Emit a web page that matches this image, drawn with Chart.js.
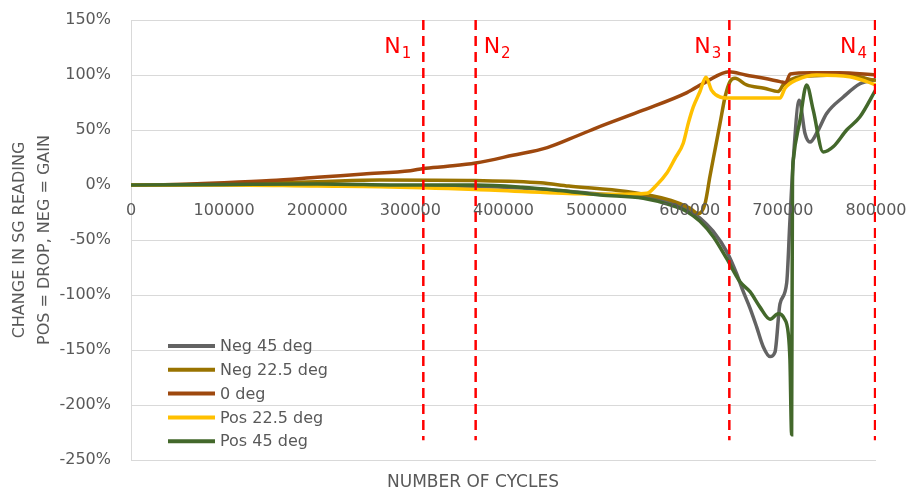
<!DOCTYPE html>
<html><head><meta charset="utf-8">
<script src="https://cdn.jsdelivr.net/npm/chart.js@4.4.1/dist/chart.umd.min.js"></script>
<style>html,body{margin:0;padding:0;background:#fff}#wrap{width:907px;height:493px;position:relative}</style>
</head><body><div id="wrap"><canvas id="c" width="907" height="493"></canvas></div>
<script>
// ---------- DATA ----------
const seriesNames = ['Neg 45 deg', 'Neg 22.5 deg', '0 deg', 'Pos 22.5 deg', 'Pos 45 deg'];

const neg45X = [0, 100000, 200000, 300000, 400000, 460000, 500000, 550000, 580000, 597000, 611000, 625000, 640000, 650000, 657500, 664700, 671800, 678900, 686200, 691500, 696900, 704100, 707600, 711200, 717600, 723700, 729100, 738000, 747000, 764900, 782800, 800000];
const neg45Y = [0, 0, 0, -1, -2, -5, -8, -11, -16, -22, -30, -42, -61, -80, -97, -112, -129, -147, -156, -152, -108, -89, -32, 23, 77, 47, 39, 50, 65, 80, 92, 96];

const neg22X = [0, 100000, 200000, 267000, 370000, 440000, 470000, 532000, 580000, 600000, 609200, 616400, 621700, 627100, 632500, 637900, 643200, 648600, 661100, 680000, 695100, 700400, 718400, 772000, 793500, 800000];
const neg22Y = [0, 1, 3, 4.5, 4, 2, -1, -6, -14, -21, -26, -17, 8, 32, 56, 80, 94, 97, 91, 88, 85, 91, 98.5, 100, 96, 95];

const zeroX = [0, 50000, 100000, 150000, 200000, 250000, 300000, 314000, 340000, 370000, 410000, 447000, 480000, 500000, 550000, 597000, 618000, 642000, 660000, 680000, 697000, 703000, 708000, 730000, 760000, 800000];
const zeroY = [0, 0.5, 2, 4, 7, 10, 13, 15, 17, 20, 27, 34, 45, 52, 68, 84, 94, 103, 100, 97, 94, 93, 101, 102, 102, 100];

const pos22X = [0, 100000, 200000, 267000, 370000, 482000, 520000, 553700, 564500, 575200, 584100, 593000, 598400, 603800, 611000, 617400, 623500, 632500, 643200, 670000, 696900, 702300, 714800, 736300, 771700, 790000, 800000];
const pos22Y = [0, 0, -1, -1.5, -4, -8, -8.5, -7.6, 0, 10.6, 24, 38, 56, 71, 85, 98, 86, 80, 79, 79, 79, 88, 95.5, 100, 98.5, 94, 91];

const pos45X = [0, 100000, 200000, 300000, 370000, 420000, 460000, 503600, 550100, 578800, 596700, 611000, 625300, 639700, 654000, 664700, 675400, 686200, 695100, 701200, 705800, 707600, 709400, 710300, 711200, 718400, 725500, 732600, 743300, 754300, 768500, 782800, 800000];
const pos45Y = [0, 0.5, 1, 0, 0, -2, -5, -9, -12, -18, -24, -33, -47, -67, -88, -97, -111, -122, -117, -121, -135, -159, -227, 0, 23, 59, 91, 68, 30, 35, 50, 62, 87];

// Milestone markers N1..N4
const nSubscripts = ['1', '2', '3', '4'];
const nCycles = [313900, 370100, 642500, 799000];
const nLineTop = 150;
const nLineBottom = -232;

// Axis ticks
const xMin = 0, xMax = 800000, xStep = 100000;
const yMin = -250, yMax = 150, yStep = 50;

const xTitle = 'NUMBER OF CYCLES';
const yTitle = ['CHANGE IN SG READING', 'POS = DROP, NEG = GAIN'];

// ---------- STYLE ----------
const colors = ['#636363', '#997300', '#9E480E', '#FFC000', '#43682B'];
const FONT = 'DejaVu Sans';
const TXT = '#595959';
const GRID = '#D9D9D9';

const seriesX = [neg45X, neg22X, zeroX, pos22X, pos45X];
const seriesY = [neg45Y, neg22Y, zeroY, pos22Y, pos45Y];

const datasets = seriesNames.map((name, i) => ({
  label: name,
  data: seriesX[i].map((x, k) => ({x, y: seriesY[i][k]})),
  borderColor: colors[i],
  backgroundColor: colors[i],
  borderWidth: 3.5,
  pointRadius: 0,
  cubicInterpolationMode: 'monotone',
  fill: false,
  order: 10 - i
}));
nCycles.forEach((n, i) => {
  datasets.push({
    label: 'N' + nSubscripts[i],
    data: [{x: n, y: nLineTop}, {x: n, y: nLineBottom}],
    borderColor: '#FF0000',
    borderWidth: 2.5,
    borderDash: [10, 6],
    pointRadius: 0,
    fill: false,
    order: 0
  });
});

// label placement for the N markers (side of the line)
const nSide = ['left', 'right', 'left', 'left'];

const overlay = {
  id: 'overlay',
  afterDraw(chart) {
    const {ctx, chartArea: a, scales: {x, y}} = chart;
    ctx.save();
    // x tick labels, from the x scale's own ticks, hanging below the 0% line
    const zeroPx = y.getPixelForValue(0);
    ctx.fillStyle = TXT;
    ctx.font = '16px "' + FONT + '"';
    ctx.textAlign = 'center';
    ctx.textBaseline = 'middle';
    x.ticks.forEach(t => {
      ctx.fillText(String(t.value), x.getPixelForValue(t.value), zeroPx + 26);
    });
    // N labels
    ctx.fillStyle = '#FF0000';
    ctx.textBaseline = 'alphabetic';
    ctx.textAlign = 'left';
    nCycles.forEach((n, i) => {
      const px = x.getPixelForValue(n);
      ctx.font = '22px "' + FONT + '"';
      const wN = ctx.measureText('N').width;
      ctx.font = '15px "' + FONT + '"';
      const wS = ctx.measureText(nSubscripts[i]).width;
      const gap = i === 0 ? 12 : 8;
      const sx = nSide[i] === 'left' ? px - gap - wN - wS - 1 : px + 8;
      ctx.font = '22px "' + FONT + '"';
      ctx.fillText('N', sx, a.top + 33);
      ctx.font = '15px "' + FONT + '"';
      ctx.fillText(nSubscripts[i], sx + wN + 1, a.top + 38);
    });
    // legend
    ctx.font = '16px "' + FONT + '"';
    ctx.textBaseline = 'middle';
    ctx.textAlign = 'left';
    seriesNames.forEach((name, i) => {
      const yy = a.bottom - 114 + i * 23.8;
      ctx.strokeStyle = colors[i];
      ctx.lineWidth = 4;
      ctx.beginPath();
      ctx.moveTo(a.left + 37, yy);
      ctx.lineTo(a.left + 84, yy);
      ctx.stroke();
      ctx.fillStyle = TXT;
      ctx.fillText(name, a.left + 89, yy + 1);
    });
    // axis titles
    ctx.fillStyle = TXT;
    ctx.font = '17px "' + FONT + '"';
    ctx.textAlign = 'center';
    ctx.textBaseline = 'middle';
    ctx.fillText(xTitle, 473, 483);
    ctx.font = '16px "' + FONT + '"';
    ctx.translate(0, (a.top + a.bottom) / 2);
    ctx.rotate(-Math.PI / 2);
    ctx.fillText(yTitle[0], 0, 20);
    ctx.fillText(yTitle[1], 0, 45);
    ctx.restore();
  }
};

new Chart(document.getElementById('c'), {
  type: 'line',
  data: {datasets},
  options: {
    responsive: false,
    animation: false,
    devicePixelRatio: 1,
    layout: {padding: {left: 0, right: 31, top: 20, bottom: 33}},
    plugins: {legend: {display: false}, tooltip: {enabled: false}},
    scales: {
      x: {
        type: 'linear',
        position: {y: 0},
        min: xMin, max: xMax,
        afterFit: s => { s.paddingLeft = 0; s.paddingRight = 0; s.paddingTop = 0; s.paddingBottom = 0; },
        grid: {display: false, drawTicks: false},
        border: {display: true, color: GRID, width: 1},
        ticks: {stepSize: xStep, display: false, font: {family: FONT, size: 16}}
      },
      y: {
        min: yMin, max: yMax,
        afterFit: s => { s.width = 131; s.paddingTop = 0; s.paddingBottom = 0; s.paddingLeft = 0; s.paddingRight = 0; },
        grid: {color: GRID, lineWidth: 1, drawTicks: false},
        border: {display: true, color: GRID, width: 1},
        ticks: {stepSize: yStep, color: TXT, font: {family: FONT, size: 16}, padding: 20,
          callback: v => v + '%'}
      }
    }
  },
  plugins: [overlay]
});
</script>
</body></html>
